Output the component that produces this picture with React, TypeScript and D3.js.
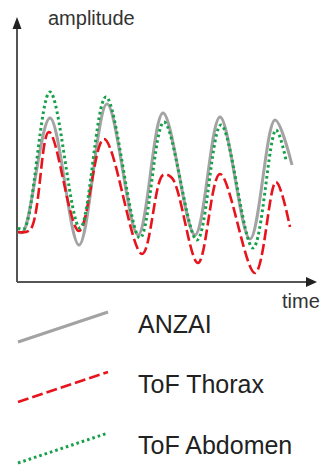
import React from "react";
import * as d3 from "d3";

// time (arbitrary units) and amplitude (arbitrary units)
const anzaiT = [1, 6, 33, 62, 90, 121, 146, 178, 203, 233, 258, 275];
const anzaiA = [50, 50, 164, 37, 178, 47, 169, 47, 165, 43, 162, 117];

const thoraxT = [1, 13, 32, 62, 87, 125, 146, 155, 181, 203, 238, 259, 273];
const thoraxA = [50, 52, 150, 51, 143, 28, 107, 104, 19, 108, 9, 100, 55];

const abdomenT = [1, 7, 33, 63, 89, 123, 147, 180, 204, 236, 259, 269];
const abdomenA = [54, 53, 190, 54, 185, 44, 160, 42, 157, 34, 152, 122];

const seriesNames = ["ANZAI", "ToF Thorax", "ToF Abdomen"];
const axisLabels = { x: "time", y: "amplitude" };

const W = 323;
const H = 465;

export default function App() {
  const x = d3.scaleLinear().domain([0, 300]).range([17, 317]);
  const y = d3.scaleLinear().domain([0, 260]).range([282, 22]);

  const line = d3
    .line<[number, number]>()
    .x((d) => x(d[0]))
    .y((d) => y(d[1]))
    .curve(d3.curveCatmullRom.alpha(0.5));

  const zip = (t: number[], a: number[]) => t.map((v, i) => [v, a[i]] as [number, number]);

  const series = [
    { name: seriesNames[0], d: zip(anzaiT, anzaiA), color: "#a3a3a3", width: 3, dash: "none" },
    { name: seriesNames[1], d: zip(thoraxT, thoraxA), color: "#e8141c", width: 2.6, dash: "11 4" },
    { name: seriesNames[2], d: zip(abdomenT, abdomenA), color: "#16a04a", width: 3, dash: "2.6 3" },
  ];

  const [x0, x1] = x.range();
  const [y0, y1] = y.range();
  const axisColor = "#555";

  const legendY = [342, 402, 463];

  return (
    <svg
      width={W}
      height={H}
      style={{ position: "absolute", left: 0, top: 0, background: "#fff" }}
      fontFamily="'Liberation Sans', Arial, sans-serif"
    >
      <rect width={W} height={H} fill="#fff" />
      {/* axes */}
      <line x1={x0} y1={y0} x2={x0} y2={y1 + 6} stroke={axisColor} strokeWidth={2} />
      <path d={`M${x0},${y1 - 5} L${x0 - 4.5},${y1 + 7} L${x0 + 4.5},${y1 + 7} Z`} fill="#222" />
      <line x1={x0} y1={y0} x2={x1 - 6} y2={y0} stroke={axisColor} strokeWidth={2} />
      <path d={`M${x1},${y0} L${x1 - 11},${y0 - 5} L${x1 - 11},${y0 + 5} Z`} fill="#222" />
      <text x={48} y={25} fontSize={20} fill="#333">
        {axisLabels.y}
      </text>
      <text x={282} y={308} fontSize={20} fill="#333">
        {axisLabels.x}
      </text>

      {series.map((s) => (
        <path
          key={s.name}
          d={line(s.d) || ""}
          fill="none"
          stroke={s.color}
          strokeWidth={s.width}
          strokeDasharray={s.dash}
          strokeLinejoin="round"
        />
      ))}

      {series.map((s, i) => (
        <g key={"leg" + s.name}>
          <line
            x1={18}
            y1={legendY[i]}
            x2={108}
            y2={legendY[i] - 30}
            stroke={s.color}
            strokeWidth={s.width}
            strokeDasharray={s.dash}
          />
          <text x={138} y={legendY[i] - 9} fontSize={25} fill="#222">
            {s.name}
          </text>
        </g>
      ))}
    </svg>
  );
}
